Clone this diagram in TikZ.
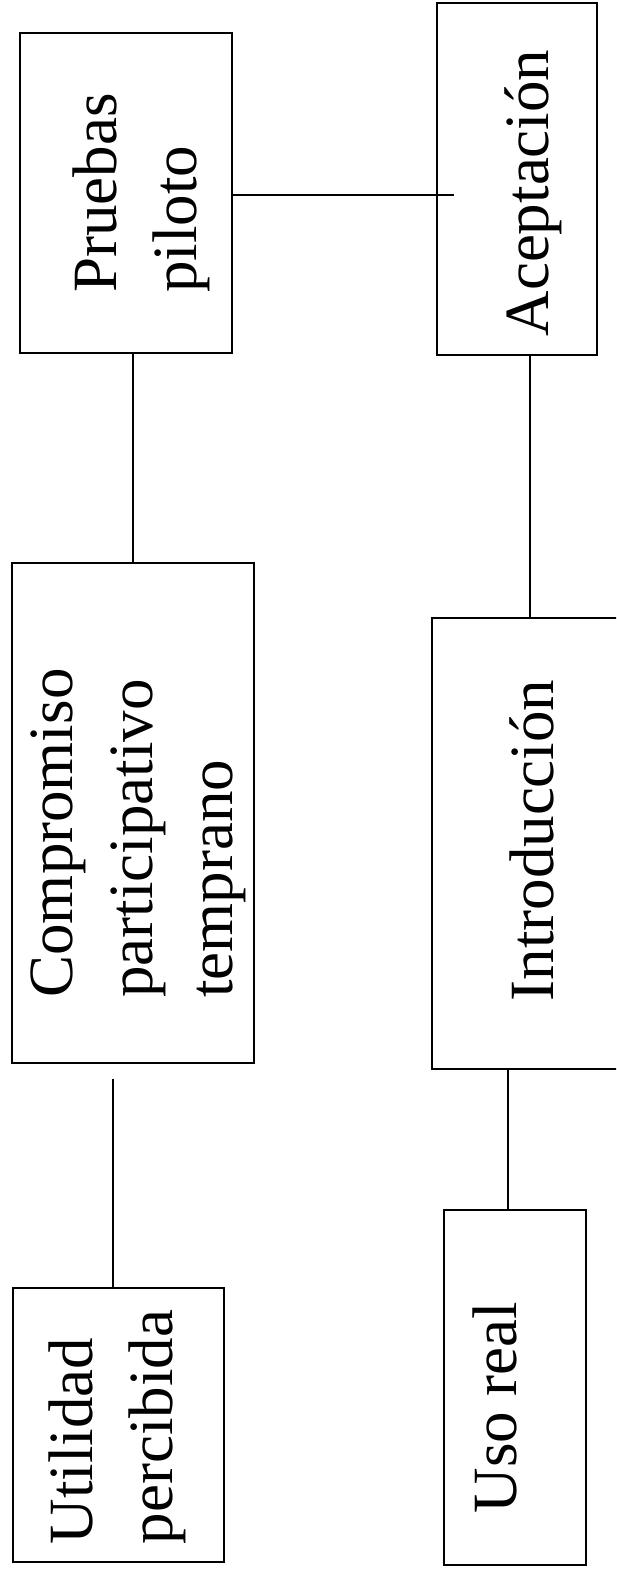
\documentclass[tikz,border=0pt]{standalone}
\usepackage{fontspec}
\usepackage{graphicx}
\setmainfont{Liberation Serif}
\usetikzlibrary{calc}

% text set upright-rotated, lines read from bottom to top
\newcommand{\vlines}[1]{\rotatebox{90}{\begin{tabular}{@{}l@{}}#1\end{tabular}}}

\tikzset{
  box/.style={draw, line width=1.3pt, rectangle, inner sep=0pt},
  lbl/.style={font=\fontsize{63}{80}\selectfont, inner sep=0pt},
  link/.style={line width=1.3pt}
}

\begin{document}
\begin{tikzpicture}[x=1pt, y=-1pt]
  \useasboundingbox[fill=white] (0,0) rectangle (616,1572);
  \clip (0,0) rectangle (616,1572);

  % upper row
  \node[box, minimum width=212pt, minimum height=320pt,
        label={[lbl, xshift=14pt]center:{\vlines{Pruebas\\piloto}}}]
        (pruebas) at (126,193) {};
  \node[box, minimum width=160pt, minimum height=352pt,
        label={[lbl, xshift=15pt, yshift=-14pt]center:{\vlines{Aceptación}}}]
        (acept) at (517,179) {};

  % middle row
  \node[box, minimum width=242pt, minimum height=500pt,
        label={[lbl, xshift=4pt, yshift=-20pt]center:{\vlines{Compromiso\\participativo\\temprano}}}]
        (comp) at (133,813) {};
  \node[box, minimum width=218pt, minimum height=451pt,
        label={[lbl, xshift=-4pt, yshift=3pt]center:{\vlines{Introducción}}}]
        (intro) at (541,843.5) {};

  % lower row
  \node[box, minimum width=211pt, minimum height=274pt,
        label={[lbl, xshift=-2pt, yshift=-2pt]center:{\vlines{Utilidad\\percibida}}}]
        (util) at (118.5,1425) {};
  \node[box, minimum width=142pt, minimum height=355pt,
        label={[lbl, xshift=-15pt, yshift=-20pt]center:{\vlines{Uso real}}}]
        (uso) at (515,1387.5) {};

  % connectors
  \draw[link] (comp.north) -- (comp.north |- pruebas.south);
  \coordinate (accIn) at ($(acept.west |- pruebas.east)+(18pt,-2pt)$);
  \draw[link] ($(pruebas.east)+(0,-2pt)$) -- (accIn);
  \draw[link] ($(acept.south)+(13pt,0)$) coordinate (a1) -- (a1 |- intro.north);
  \draw[link] ($(uso.north)+(-7pt,0)$) coordinate (u1) -- (u1 |- intro.south);
  \coordinate (gapEnd) at ($(comp.south)+(-20pt,-15pt)$);
  \draw[link] ($(util.north)+(-5.5pt,0)$) coordinate (t1) -- (t1 |- gapEnd);
\end{tikzpicture}
\end{document}
